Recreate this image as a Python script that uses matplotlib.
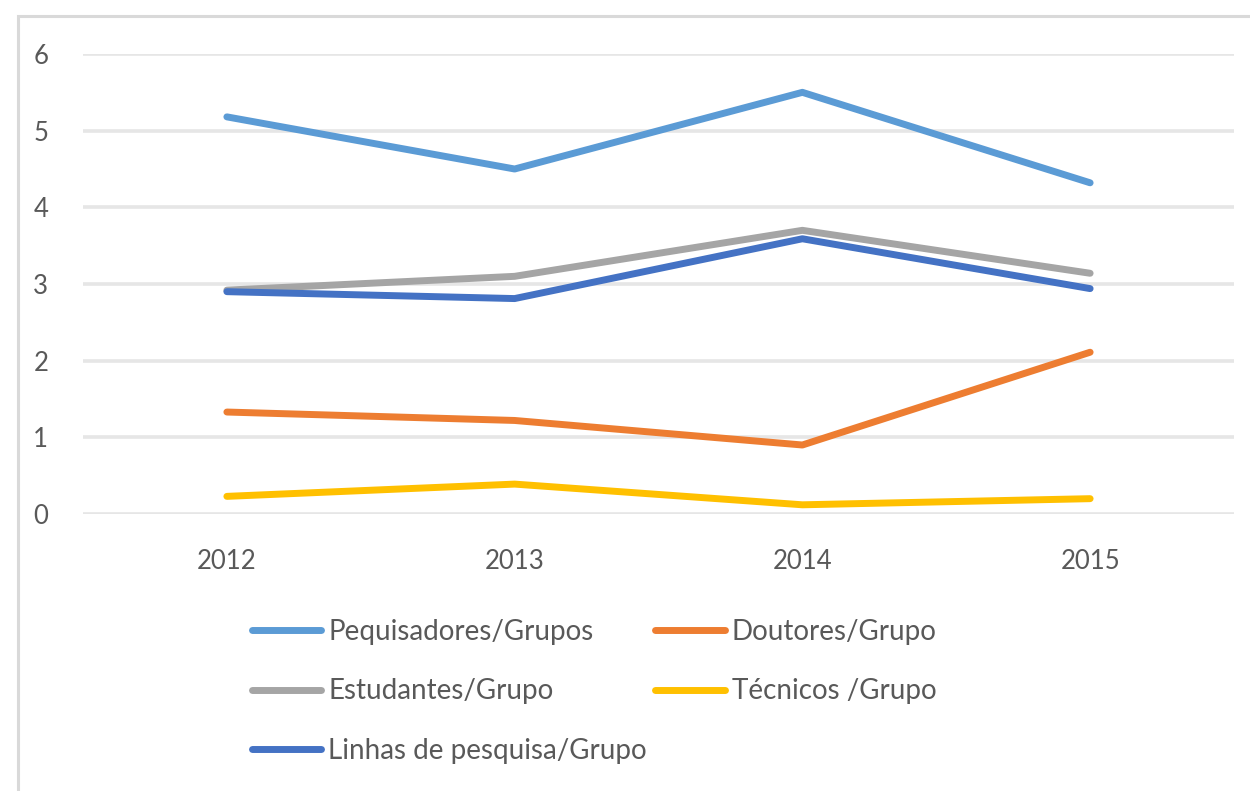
import matplotlib
matplotlib.use("Agg")
import matplotlib.pyplot as plt
from matplotlib.patches import Rectangle

anos = ["2012", "2013", "2014", "2015"]
pesquisadores = [5.18, 4.50, 5.50, 4.32]
doutores = [1.33, 1.22, 0.90, 2.11]
estudantes = [2.92, 3.10, 3.70, 3.14]
tecnicos = [0.23, 0.39, 0.12, 0.20]
linhas = [2.90, 2.81, 3.59, 2.94]

series = [
    ("Pequisadores/Grupos", pesquisadores, "#5B9BD5"),
    ("Doutores/Grupo", doutores, "#ED7D31"),
    ("Estudantes/Grupo", estudantes, "#A5A5A5"),
    ("Técnicos /Grupo", tecnicos, "#FFC000"),
    ("Linhas de pesquisa/Grupo", linhas, "#4472C4"),
]

plt.rcParams["font.family"] = ["Lato", "DejaVu Sans"]

fig = plt.figure(figsize=(12.5, 7.91), dpi=100)
ax = fig.add_axes([83 / 1250, 1 - 514 / 791, (1234 - 83) / 1250, (514 - 54) / 791])

# moldura cinza clara do gráfico
fig.patches.append(Rectangle((18 / 1250, -0.05), 1.2, 1 - 16 / 791 + 0.05,
                             transform=fig.transFigure, fill=False,
                             edgecolor="#d9d9d9", linewidth=2.2))

x = list(range(len(anos)))
handles = {}
for nome, vals, cor in series:
    (h,) = ax.plot(x, vals, color=cor, linewidth=5, solid_capstyle="round", label=nome)
    handles[nome] = h

ax.set_xlim(-0.5, len(anos) - 0.5)
ax.set_ylim(0, 6)
ax.set_yticks(range(0, 7))
ax.set_xticks(x)
ax.set_xticklabels(anos)
ax.grid(axis="y", color="#e6e6e6", linewidth=2.6)
ax.set_axisbelow(True)
for s in ax.spines.values():
    s.set_visible(False)
ax.tick_params(length=0, labelsize=18.5, labelcolor="#595959")
ax.tick_params(axis="y", pad=25)
ax.tick_params(axis="x", pad=25)

# ordem para ficar em linhas como no original
ordem = ["Pequisadores/Grupos", "Estudantes/Grupo", "Linhas de pesquisa/Grupo",
         "Doutores/Grupo", "Técnicos /Grupo"]
fig.legend([handles[n] for n in ordem], ordem, ncol=2, loc="upper left",
           bbox_to_anchor=(252 / 1250, 1 - 619 / 791), frameon=False,
           fontsize=20, labelcolor="#595959", handlelength=2.5,
           handletextpad=0.25, labelspacing=1.2, columnspacing=0.3,
           borderpad=0, borderaxespad=0)

fig.savefig("out.png", dpi=100)
